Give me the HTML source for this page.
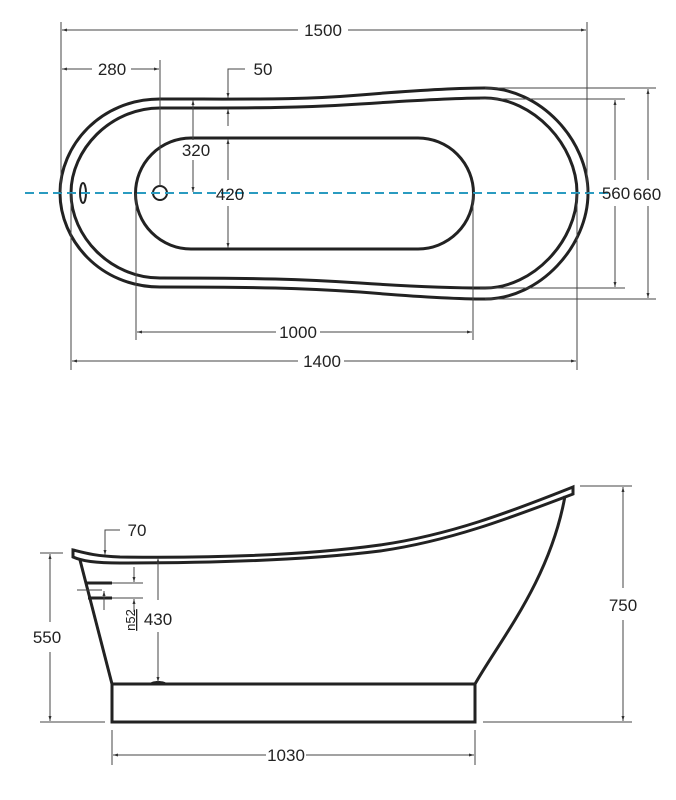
<!DOCTYPE html>
<html><head><meta charset="utf-8"><style>
html,body{margin:0;padding:0;background:#fff}
svg{display:block}
text{font-family:"Liberation Sans",sans-serif;font-size:17px;fill:#222}
</style></head><body>
<svg width="676" height="800" viewBox="0 0 676 800" xmlns="http://www.w3.org/2000/svg">
<defs>
<marker id="a" viewBox="0 0 10 10" refX="10" refY="5" markerWidth="5" markerHeight="5" orient="auto-start-reverse"><path d="M0,2 L10,5 L0,8 z" fill="#333"/></marker>
</defs>
<g fill="none" stroke="#222" stroke-width="3">
<path d="M160,99 C260,99 300,100 360,95 C420,90 460,88 485,88 C540,88 588,140 588,193 C588,246 540,299 485,299 C460,299 420,297 360,292 C300,288 260,287 160,287 C100,287 60,240 60,193 C60,146 100,99 160,99 Z"/>
<path d="M160,108 C260,108 300,108 360,104 C420,100 460,98 485,98 C533,98 577,145 577,193 C577,241 533,288 485,288 C460,288 420,287 360,283 C300,279 260,278 160,278 C110,278 71,236 71,193 C71,150 110,108 160,108 Z"/>
<path d="M191,138 L418,138 A55.5,55.5 0 0 1 418,249 L191,249 A55.5,55.5 0 0 1 191,138 Z"/>
</g>
<g fill="none" stroke="#222" stroke-width="2">
<circle cx="160" cy="193" r="7"/>
<ellipse cx="83" cy="193" rx="3" ry="10"/>
</g>
<line x1="25" y1="193" x2="612" y2="193" stroke="#2a9bc0" stroke-width="2" stroke-dasharray="9,5"/>
<g stroke="#444" stroke-width="1" fill="none">
<line x1="61" y1="22" x2="61" y2="193"/>
<line x1="587" y1="22" x2="587" y2="193"/>
<line x1="62" y1="30" x2="298" y2="30" marker-start="url(#a)"/>
<line x1="348" y1="30" x2="586" y2="30" marker-end="url(#a)"/>
<line x1="160" y1="60" x2="160" y2="186"/>
<line x1="62" y1="69" x2="92" y2="69" marker-start="url(#a)"/>
<line x1="131" y1="69" x2="159" y2="69" marker-end="url(#a)"/>
<polyline points="245,69 228,69 228,98" marker-end="url(#a)"/>
<line x1="228" y1="109" x2="228" y2="126" marker-start="url(#a)"/>
<line x1="228" y1="139" x2="228" y2="180" marker-start="url(#a)"/>
<line x1="228" y1="206" x2="228" y2="248" marker-end="url(#a)"/>
<line x1="193" y1="100" x2="193" y2="140" marker-start="url(#a)"/>
<line x1="193" y1="160" x2="193" y2="192" marker-end="url(#a)"/>
<line x1="480" y1="99" x2="625" y2="99"/>
<line x1="480" y1="288" x2="625" y2="288"/>
<line x1="485" y1="88" x2="656" y2="88"/>
<line x1="485" y1="299" x2="656" y2="299"/>
<line x1="615" y1="100" x2="615" y2="180" marker-start="url(#a)"/>
<line x1="615" y1="206" x2="615" y2="287" marker-end="url(#a)"/>
<line x1="648" y1="89" x2="648" y2="180" marker-start="url(#a)"/>
<line x1="648" y1="206" x2="648" y2="298" marker-end="url(#a)"/>
<line x1="136" y1="193" x2="136" y2="340"/>
<line x1="473" y1="193" x2="473" y2="340"/>
<line x1="137" y1="332" x2="276" y2="332" marker-start="url(#a)"/>
<line x1="320" y1="332" x2="472" y2="332" marker-end="url(#a)"/>
<line x1="71" y1="193" x2="71" y2="370"/>
<line x1="577" y1="193" x2="577" y2="370"/>
<line x1="72" y1="361" x2="298" y2="361" marker-start="url(#a)"/>
<line x1="344" y1="361" x2="576" y2="361" marker-end="url(#a)"/>
</g>
<text x="323" y="36" text-anchor="middle">1500</text>
<text x="112" y="75" text-anchor="middle">280</text>
<text x="263" y="75" text-anchor="middle">50</text>
<text x="196" y="156" text-anchor="middle">320</text>
<text x="230" y="200" text-anchor="middle">420</text>
<text x="616" y="199" text-anchor="middle">560</text>
<text x="647" y="200" text-anchor="middle">660</text>
<text x="298" y="338" text-anchor="middle">1000</text>
<text x="322" y="367" text-anchor="middle">1400</text>

<g fill="none" stroke="#222" stroke-width="3">
<path d="M73,550 C85,553 95,556 120,557 C200,558 300,556 380,545 C450,535 510,512 573,487 L573,494 C510,518 450,541 380,551 C300,561 200,563 120,563 C95,563 82,561 73,557 Z"/>
<path d="M80,560 L112,684"/>
<path d="M565,496 C550,580 500,640 475,684"/>
<rect x="112" y="684" width="363" height="38"/>
<path d="M87,583 L112,583 M88,598 L112,598"/>
</g>
<path d="M150,684 C150,680 166,680 167,684 Z" fill="#222"/>
<g stroke="#444" stroke-width="1" fill="none">
<line x1="112" y1="583" x2="143" y2="583"/>
<line x1="112" y1="598" x2="143" y2="598"/>
<line x1="77" y1="590" x2="102" y2="590"/>
<line x1="134" y1="567" x2="134" y2="582" marker-end="url(#a)"/>
<line x1="134" y1="612" x2="134" y2="599" marker-end="url(#a)"/>
<line x1="104" y1="610" x2="104" y2="591" marker-end="url(#a)"/>
<polyline points="120,530 105,530 105,555" marker-end="url(#a)"/>
<line x1="158" y1="558" x2="158" y2="600" marker-start="url(#a)"/>
<line x1="158" y1="632" x2="158" y2="682" marker-end="url(#a)"/>
<line x1="40" y1="553" x2="63" y2="553"/>
<line x1="40" y1="722" x2="105" y2="722"/>
<line x1="50" y1="554" x2="50" y2="622" marker-start="url(#a)"/>
<line x1="50" y1="652" x2="50" y2="721" marker-end="url(#a)"/>
<line x1="580" y1="486" x2="632" y2="486"/>
<line x1="483" y1="722" x2="632" y2="722"/>
<line x1="623" y1="487" x2="623" y2="588" marker-start="url(#a)"/>
<line x1="623" y1="620" x2="623" y2="721" marker-end="url(#a)"/>
<line x1="112" y1="730" x2="112" y2="765"/>
<line x1="475" y1="730" x2="475" y2="765"/>
<line x1="113" y1="755" x2="266" y2="755" marker-start="url(#a)"/>
<line x1="306" y1="755" x2="474" y2="755" marker-end="url(#a)"/>
</g>
<text x="137" y="536" text-anchor="middle">70</text>
<text x="158" y="625" text-anchor="middle">430</text>
<text x="47" y="643" text-anchor="middle">550</text>
<text x="623" y="611" text-anchor="middle">750</text>
<text x="286" y="761" text-anchor="middle">1030</text>
<text transform="translate(135,620) rotate(-90)" text-anchor="middle" style="font-size:13px;text-decoration:underline">n52</text>
</svg>
</body></html>
